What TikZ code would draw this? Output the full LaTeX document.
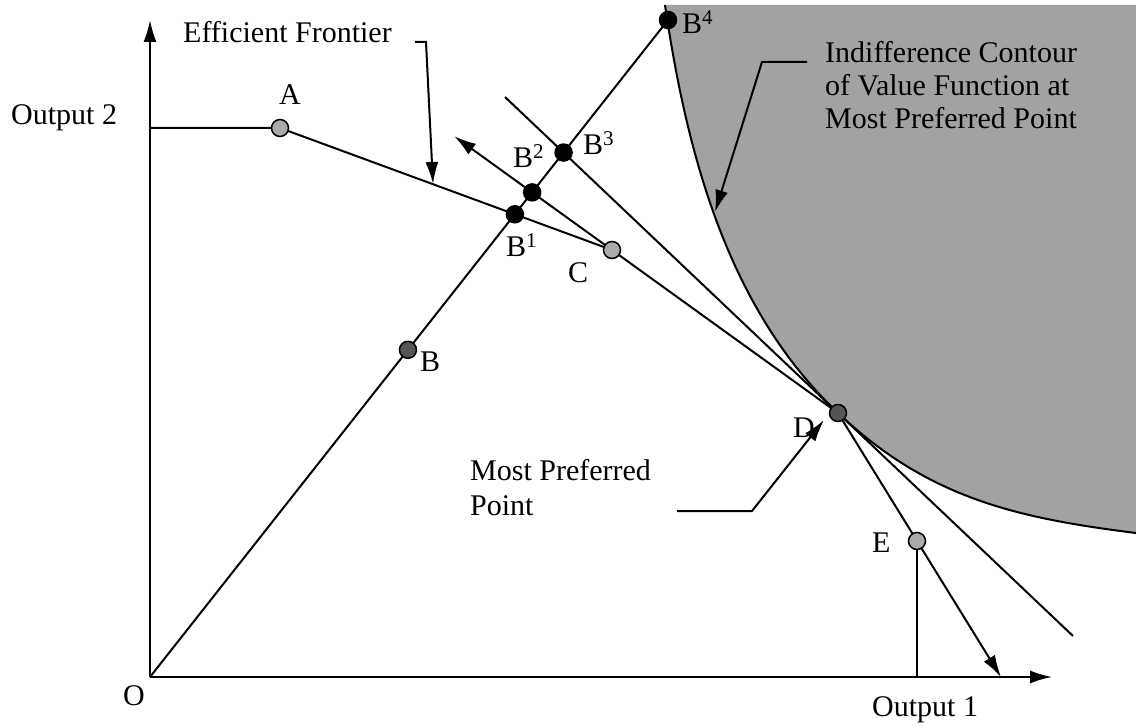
\documentclass[tikz,border=0pt]{standalone}
\usepackage{fontspec}
\setmainfont{Liberation Serif}
\usetikzlibrary{arrows.meta,calc}
\definecolor{regiongray}{RGB}{162,162,162}
\definecolor{lightpt}{RGB}{170,170,170}
\definecolor{darkpt}{RGB}{85,85,85}
\begin{document}
\begin{tikzpicture}[x=1pt,y=-1pt,
  font=\fontsize{30}{33}\selectfont,
  ln/.style={line width=2pt},
  arr/.style={ln,-{Latex[length=22pt,width=13pt]}},
  pt/.style={circle,draw=black,line width=1.5pt,minimum size=17pt,inner sep=0pt},
  ptlight/.style={pt,fill=lightpt},
  ptdark/.style={pt,fill=darkpt},
  ptblack/.style={pt,fill=black},
  lbl/.style={anchor=base west,inner sep=0pt},
  blk/.style={anchor=north west,inner sep=0pt,align=left}]
\useasboundingbox (0,0) rectangle (1136,727);

% key positions
\coordinate (O) at (150,677);
\coordinate (ytip) at (150,20);
\coordinate (xtip) at (1052,677);
\coordinate (pA) at (280,128);
\coordinate (pC) at (612,250);
\coordinate (pD) at (838,413);
\coordinate (pE) at (917,541);
\coordinate (pB4) at (668,20);
\coordinate (pB1) at (intersection of pA--pC and O--pB4);
\coordinate (pB2) at (intersection of pD--pC and O--pB4);
\coordinate (tanA) at ($(pD)+(-333,-316)$);
\coordinate (tanB) at ($(pD)+(235,223)$);
\coordinate (pB3) at (intersection of tanA--tanB and O--pB4);
\coordinate (pB) at ($(O)!0.498!(pB4)$);
\coordinate (ctip) at ($(pD)!1.698!(pC)$);
\coordinate (etip) at (intersection of pD--pE and O--xtip);
\coordinate (yA) at (O |- pA);
\coordinate (eFoot) at (pE |- O);

% indifference region
\fill[regiongray] (665,5) .. controls (687,155) and (728,309) .. (pD)
  .. controls (928,498) and (1016,518) .. (1136,533) -- (1136,5) -- cycle;
\draw[ln] (665,5) .. controls (687,155) and (728,309) .. (pD)
  .. controls (928,498) and (1016,518) .. (1136,533);

% axes
\draw[arr] (O) -- (ytip);
\draw[arr] (O) -- (xtip);

% frontier and rays
\draw[ln] (yA) -- (pA) -- (pC) -- (pD) -- (pE);
\draw[ln] (pE) -- (eFoot);
\draw[arr] (pE) -- (etip);
\draw[arr] (pC) -- (ctip);
\draw[ln] (O) -- (pB4);
\draw[ln] (tanA) -- (tanB);

% annotation arrows
\coordinate (efA) at (415,42);
\coordinate (efB) at (426,42);
\coordinate (efTip) at (433,184);
\draw[arr] (efA) -- (efB) -- (efTip);
\coordinate (icA) at (807,62);
\coordinate (icB) at (762,62);
\coordinate (icTip) at (715,212);
\draw[arr] (icA) -- (icB) -- (icTip);
\coordinate (mpA) at (677,511);
\coordinate (mpB) at (752,511);
\coordinate (mpTip) at (824,420);
\draw[arr] (mpA) -- (mpB) -- (mpTip);

% points
\node[ptlight] (A) at (pA) {};
\node[ptlight] (C) at (pC) {};
\node[ptlight] (E) at (pE) {};
\node[ptdark] (B) at (pB) {};
\node[ptdark] (D) at (pD) {};
\node[ptblack] (B1) at (pB1) {};
\node[ptblack] (B2) at (pB2) {};
\node[ptblack] (B3) at (pB3) {};
\node[ptblack] (B4) at (pB4) {};

% labels
\node[lbl] (lO) at (123,705) {O};
\node[lbl] (lOut2) at (11,125) {Output 2};
\node[lbl] (lOut1) at (872,716) {Output 1};
\node[lbl] (lEF) at (183,43) {Efficient Frontier};
\node[lbl] (lA) at (279,105) {A};
\node[lbl] (lB) at (420,372) {B};
\node[lbl] (lC) at (568,283) {C};
\node[lbl] (lD) at (793,437) {D};
\node[lbl] (lE) at (872,552) {E};
\node[lbl] (lB1) at (506,257) {B\textsuperscript{1}};
\node[lbl] (lB2) at (513,168) {B\textsuperscript{2}};
\node[lbl] (lB3) at (583,155) {B\textsuperscript{3}};
\node[lbl] (lB4) at (682,34) {B\textsuperscript{4}};
\node[blk] (lIC) at (825,41.5) {Indifference Contour\\of Value Function at\\Most Preferred Point};
\node[blk,font=\fontsize{30}{35}\selectfont] (lMP) at (470,459.5) {Most Preferred\\Point};
\end{tikzpicture}
\end{document}
